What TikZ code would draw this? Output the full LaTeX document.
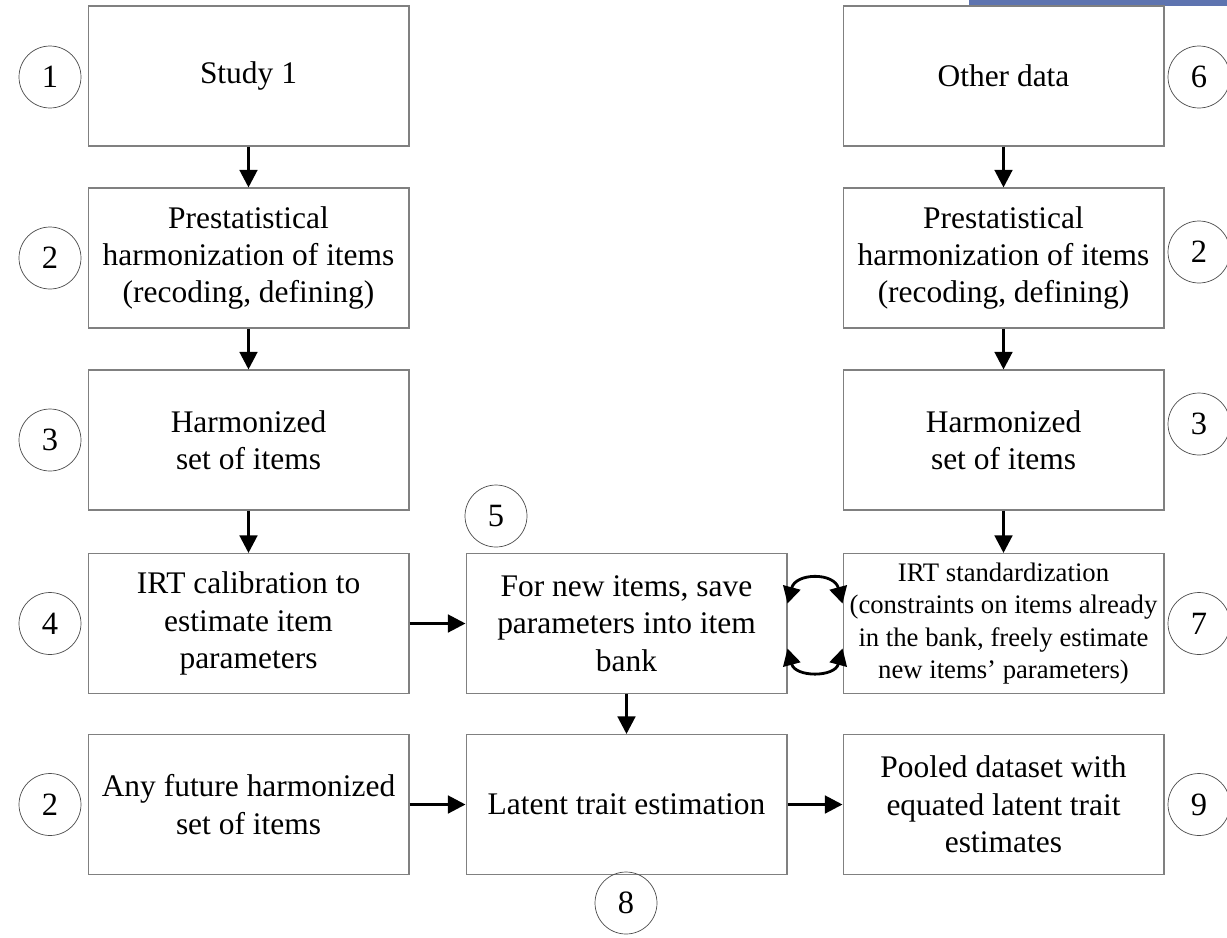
\documentclass[tikz,border=0pt]{standalone}
\usepackage{fontspec}
\setmainfont{Liberation Serif}
\usetikzlibrary{arrows.meta}
\definecolor{bxgray}{RGB}{128,128,128}
\definecolor{bandblue}{RGB}{94,116,176}

\begin{document}
\begin{tikzpicture}[x=0.02cm,y=-0.02cm,
  box/.style={draw=bxgray,line width=0.6pt,minimum width=6.42cm,minimum height=2.8cm,align=center,inner sep=2pt,font=\fontsize{17.9}{21.3}\selectfont},
  num/.style={circle,draw=black!70,line width=0.4pt,minimum size=1.24cm,inner sep=0pt,font=\fontsize{18.5}{21}\selectfont},
  arr/.style={-{Triangle[length=10pt,width=10pt]},line width=1.7pt},
  swap/.style={{Triangle[length=9.5pt,width=10pt]}-{Triangle[length=9.5pt,width=10pt]},line width=1.6pt}]
  \useasboundingbox (0,0) rectangle (1227,937);
  \fill[bandblue] (969,0) rectangle (1227,6);
  % left column
  \node[box] (study) at (248.5,76) {Study 1};
  \node[box] (prehl) at (248.5,258) {Prestatistical\\harmonization of items\\(recoding, defining)};
  \node[box] (harml) at (248.5,440) {Harmonized\\set of items};
  \node[box] (irtcal) at (248.5,623.5) {IRT calibration to\\estimate item\\parameters};
  \node[box] (future) at (248.5,804.5) {Any future harmonized\\set of items};
  % middle column
  \node[box] (bank) at (626.5,623.5) {For new items, save\\parameters into item\\bank};
  \node[box] (latent) at (626.5,804.5) {Latent trait estimation};
  % right column
  \node[box] (other) at (1003.5,76) {Other data};
  \node[box] (prehr) at (1003.5,258) {Prestatistical\\harmonization of items\\(recoding, defining)};
  \node[box] (harmr) at (1003.5,440) {Harmonized\\set of items};
  \node[box,font=\fontsize{15.2}{18.5}\selectfont] (irtstd) at (1003.5,623.5) {IRT standardization\\(constraints on items already\\in the bank, freely estimate\\new items’ parameters)};
  \node[box] (pooled) at (1003.5,804.5) {Pooled dataset with\\equated latent trait\\estimates};
  % step numbers
  \node[num] (n1) at (50,77) {1};
  \node[num] (n2) at (50,258) {2};
  \node[num] (n3) at (50,440) {3};
  \node[num] (n4) at (50,623.5) {4};
  \node[num] (n2b) at (50,804.5) {2};
  \node[num] (n5) at (496,516) {5};
  \node[num] (n8) at (626,903) {8};
  \node[num] (n6) at (1199,77) {6};
  \node[num] (n2c) at (1199,252) {2};
  \node[num] (n3c) at (1199,424) {3};
  \node[num] (n7) at (1199,623.5) {7};
  \node[num] (n9) at (1199,804.5) {9};
  % arrows
  \draw[arr] (study) -- (prehl);
  \draw[arr] (prehl) -- (harml);
  \draw[arr] (harml) -- (irtcal);
  \draw[arr] (irtcal) -- (bank);
  \draw[arr] (bank) -- (latent);
  \draw[arr] (future) -- (latent);
  \draw[arr] (latent) -- (pooled);
  \draw[arr] (other) -- (prehr);
  \draw[arr] (prehr) -- (harmr);
  \draw[arr] (harmr) -- (irtstd);
  % exchange with the item bank
  \draw[swap] ([yshift=0.4cm]bank.east) to[out=75,in=105,looseness=1.5] ([yshift=0.4cm]irtstd.west);
  \draw[swap] ([yshift=-0.5cm]bank.east) to[out=-75,in=-105,looseness=1.4] ([yshift=-0.5cm]irtstd.west);
\end{tikzpicture}
\end{document}
